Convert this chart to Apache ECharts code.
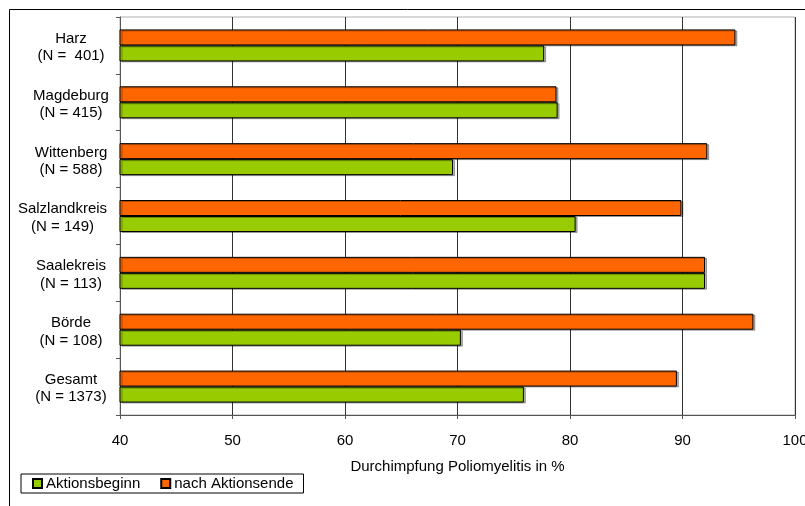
<!DOCTYPE html>
<html>
<head>
<meta charset="utf-8">
<script src="https://cdn.jsdelivr.net/npm/echarts@6/dist/echarts.min.js"></script>
<style>
  html, body { margin: 0; padding: 0; background: #fff; }
  #chart { width: 805px; height: 506px; }
</style>
</head>
<body>
<div id="chart"></div>
<script>
// Districts with sample size, top to bottom
const categories = [
  'Harz\n(N =  401)',
  'Magdeburg\n(N = 415)',
  'Wittenberg\n(N = 588)',
  'Salzlandkreis\n(N = 149)',
  'Saalekreis\n(N = 113)',
  'Börde\n(N = 108)',
  'Gesamt\n(N = 1373)'
];
// Polio vaccination coverage in %
const aktionsbeginn = [77.7, 78.9, 69.6, 80.5, 92.0, 70.3, 75.9];
const nachAktionsende = [94.7, 78.8, 92.2, 89.9, 92.0, 96.3, 89.5];
const xTicks = { min: 40, max: 100, interval: 10 };

const font = '"Liberation Sans", Arial, sans-serif';
const fontSize = 15;
const chart = echarts.init(document.getElementById('chart'), null, { renderer: 'canvas' });

const barStyle = (color) => ({
  color: color,
  borderColor: '#000',
  borderWidth: 1,
  shadowColor: 'rgba(0,0,0,0.3)',
  shadowOffsetX: 2,
  shadowOffsetY: 1,
  shadowBlur: 0
});

// Wide labels are kept clear of the axis: shift them left with right padding
const labelFormatter = (value) => {
  const lines = value.split('\n');
  const wide = lines.some((l) => l.length > 11);
  return lines.map((l) => (wide ? '{wide|' : '{n|') + l + '}').join('\n');
};
const richBase = { fontFamily: font, fontSize: fontSize, color: '#000', lineHeight: 17.5 };

chart.setOption({
  animation: false,
  backgroundColor: '#fff',
  textStyle: { fontFamily: font },
  graphic: [{
    type: 'rect',
    z: -10,
    shape: { x: 9.5, y: 9.5, width: 900, height: 600 },
    style: { fill: 'none', stroke: '#000', lineWidth: 1 }
  }],
  grid: {
    left: 120, right: 10, top: 17, bottom: 91,
    outerBoundsMode: 'none',
    containLabel: false,
    show: true, borderColor: '#b0b0b0', borderWidth: 1, backgroundColor: 'transparent'
  },
  legend: {
    left: 21, top: 474,
    orient: 'horizontal',
    data: ['Aktionsbeginn', 'nach Aktionsende'],
    icon: 'rect',
    itemWidth: 9, itemHeight: 9, itemGap: 20,
    padding: [2, 10, 2, 11],
    borderColor: '#000', borderWidth: 1,
    textStyle: { fontFamily: font, fontSize: fontSize, color: '#000', padding: [0, 0, 0, -1] }
  },
  xAxis: {
    type: 'value',
    min: xTicks.min, max: xTicks.max, interval: xTicks.interval,
    name: 'Durchimpfung Poliomyelitis in %',
    nameLocation: 'middle',
    nameGap: 44,
    nameTextStyle: { fontFamily: font, fontSize: fontSize, color: '#000' },
    axisLine: { show: true, lineStyle: { color: '#555', width: 1 } },
    axisTick: { show: true, length: 4, lineStyle: { color: '#555' } },
    axisLabel: { fontFamily: font, fontSize: fontSize, color: '#000', margin: 18 },
    splitLine: { show: true, lineStyle: { color: '#333', width: 1 } }
  },
  yAxis: {
    type: 'category',
    inverse: true,
    data: categories,
    axisLine: { show: true, lineStyle: { color: '#555', width: 1 } },
    axisTick: { show: true, length: 4, lineStyle: { color: '#555' } },
    axisLabel: {
      fontFamily: font, fontSize: fontSize, color: '#000',
      align: 'center', margin: 49, lineHeight: 17.5,
      padding: [4, 0, 0, 0],
      formatter: labelFormatter,
      rich: {
        n: Object.assign({}, richBase),
        wide: Object.assign({ padding: [0, 17, 0, 0] }, richBase)
      }
    },
    splitLine: { show: false }
  },
  series: [
    {
      name: 'nach Aktionsende',
      type: 'bar',
      data: nachAktionsende,
      barWidth: 16,
      barGap: '0%',
      itemStyle: barStyle('#FF6600')
    },
    {
      name: 'Aktionsbeginn',
      type: 'bar',
      data: aktionsbeginn,
      barWidth: 16,
      barGap: '0%',
      itemStyle: barStyle('#99CC00')
    }
  ]
});
</script>
</body>
</html>
